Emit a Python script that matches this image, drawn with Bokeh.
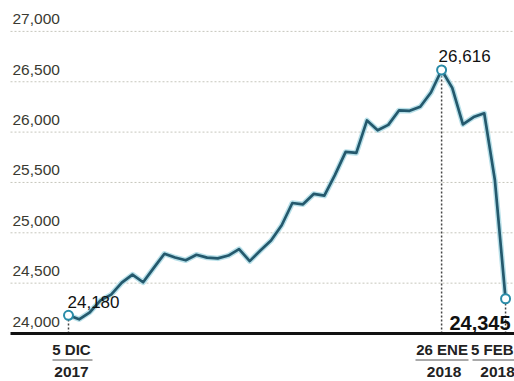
from bokeh.plotting import figure
from bokeh.models import Range1d
from bokeh.core.properties import value
from bokeh.embed import file_html
from bokeh.resources import INLINE

# ---- data (Dow Jones closes, 5 Dec 2017 - 5 Feb 2018, trading days) ----
closes = [24181, 24141, 24211, 24329, 24386, 24505, 24585, 24509, 24652, 24792,
          24755, 24727, 24782, 24754, 24746, 24774, 24838, 24719, 24824, 24923,
          25075, 25296, 25283, 25386, 25369, 25575, 25803, 25793, 26116, 26018,
          26072, 26215, 26211, 26252, 26393, 26617, 26439, 26077, 26149, 26187,
          25521, 24345]
y_ticks = [24000, 24500, 25000, 25500, 26000, 26500, 27000]
y_tick_labels = ["24,000", "24,500", "25,000", "25,500", "26,000", "26,500", "27,000"]
mark_idx = [0, 35, 41]
mark_text = ["24,180", "26,616", "24,345"]
tick_day = ["5 DIC", "26 ENE", "5 FEB"]
tick_year = ["2017", "2018", "2018"]

# ---- layout helpers (pixel -> data) ----
XS = 10.66      # px per trading day
YS = 0.1007     # px per index point
X0, YB = 68, 333
def dx(px): return (px - X0) / XS
def dy(py): return 24000 + (YB - py) / YS

W, H = 514, 381
p = figure(width=W, height=H, output_backend="svg", toolbar_location=None,
           x_axis_type=None, y_axis_type=None, min_border=0,
           x_range=Range1d(dx(0), dx(W)), y_range=Range1d(dy(H), dy(0)))
p.outline_line_color = None
p.background_fill_color = "white"
p.border_fill_color = "white"

xs = list(range(len(closes)))
FONT = value("Liberation Sans")

# grid lines
for v in y_ticks[1:]:
    p.line([dx(10), dx(512)], [v, v], line_color="#c6c6bc", line_width=1, line_dash="2 2")

# y labels
p.text(x=[dx(12)] * len(y_ticks), y=y_ticks, text=y_tick_labels,
       text_font=FONT, text_font_size="15.5px", text_color="#3a3a32",
       text_align="left", text_baseline="alphabetic", y_offset=-12)

# dotted verticals
for i in mark_idx:
    p.line([i, i], [24000, closes[i]], line_color="#444444", line_width=1.5, line_dash="2 2")

# baseline
p.line([dx(10), dx(514)], [24000, 24000], line_color="#111111", line_width=3)

# the series
p.line(xs, closes, line_color="#a6d8e4", line_width=5.5, line_alpha=0.8, line_join="round")
p.line(xs, closes, line_color="#24596d", line_width=2.7, line_join="round")
p.scatter([xs[i] for i in mark_idx], [closes[i] for i in mark_idx], size=9,
          line_color="#2b8ca8", fill_color="white", line_width=2)

# value annotations
p.text(x=[mark_idx[0]], y=[24000], text=[mark_text[0]], text_font=FONT,
       text_font_size="17px", text_color="#111111", text_align="left",
       text_baseline="alphabetic", x_offset=-1, y_offset=-31.5)
p.text(x=[mark_idx[1]], y=[closes[mark_idx[1]]], text=[mark_text[1]],
       text_font=FONT, text_font_size="17px", text_color="#111111",
       text_align="left", text_baseline="alphabetic", x_offset=-3, y_offset=-14)
p.text(x=[mark_idx[2]], y=[24000], text=[mark_text[2]], text_font=FONT,
       text_font_size="20px", text_font_style="bold", text_color="#111111",
       text_align="right", text_baseline="alphabetic", x_offset=5, y_offset=-11)

# x labels
day_off = [3, 0.5, 8]
day_align = ["center", "center", "right"]
year_off = [3, 2.5, -8]
for i, t, y, do, da, yo in zip(mark_idx, tick_day, tick_year, day_off, day_align, year_off):
    p.text(x=[i], y=[24000], text=[t], text_font=FONT,
           text_font_size="15px", text_font_style="bold", text_color="#222222",
           text_align=da, text_baseline="alphabetic", x_offset=do, y_offset=15.5)
    p.text(x=[i], y=[24000], text=[y], text_font=FONT,
           text_font_size="15.5px", text_font_style="bold", text_color="#222222",
           text_align="center", text_baseline="alphabetic", x_offset=yo, y_offset=38.5)

# underlines between day and year
ul = [(52, 92), (415, 468), (472, 514)]
for a, b in ul:
    p.line([dx(a), dx(b)], [dy(359.5), dy(359.5)], line_color="#555555", line_width=1)

open("out.html", "w").write(file_html(p, INLINE))
